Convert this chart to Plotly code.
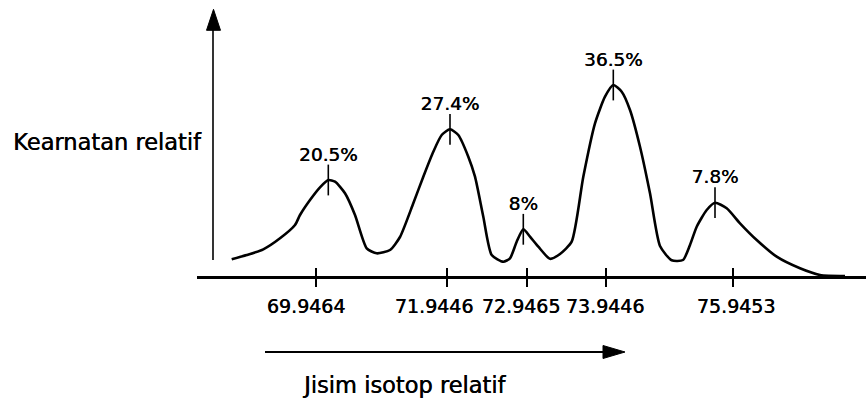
import plotly.graph_objects as go

# ---------------- data ----------------
# horizontal position along the mass axis (schematic units) and height above the baseline
curve_x = [231.7, 246.7, 263.3, 280, 295, 300, 310, 320, 328.3, 335, 345, 355, 366.7, 376.7,
           390, 400, 413.3, 423.3, 433.3, 441.7, 450, 458.3, 468.3, 475, 483.3, 491.7, 503.3,
           510, 516.7, 523.3, 530, 538.3, 550, 560, 571.7, 583.3, 595, 605, 613.3, 621.7, 630,
           640, 650, 660, 671.7, 683, 690, 696.7, 706.7, 715, 726.7, 740, 756.7, 776.7, 800,
           820, 845]
curve_y = [16.7, 21, 26.7, 37.7, 51, 61, 76, 88.7, 96, 94.3, 82.7, 61, 27.7, 22.7,
           26, 39, 72.7, 99.3, 124.3, 141, 146.7, 141, 119.3, 99.3, 59.3, 21, 14.3,
           17.7, 34.3, 46.7, 39.3, 29.3, 17.2, 22, 34.3, 99.3, 152.7, 179.3, 191, 184.3, 166,
           129.3, 82.7, 30, 15.7, 16, 31, 49.3, 66, 73.3, 67.7, 52.7, 36, 19.3, 7.7,
           1, 0]

peak_x = [328.3, 450, 523.3, 613.3, 715]
peak_y = [96, 146.7, 46.7, 191, 73.3]
abundance_labels = ["20.5%", "27.4%", "8%", "36.5%", "7.8%"]

mass_labels = ["69.9464", "71.9446", "72.9465", "73.9446", "75.9453"]
tick_x = [316, 447, 527, 606, 733]
label_x = [306, 434, 521, 605, 736]

y_title = "Kearnatan relatif"
x_title = "Jisim isotop relatif"

# ---------------- layout helpers ----------------
W, H = 866, 400
L, B = 197, 124
X0, X1 = 197, 866
Y_TOP = 276
FONT = "DejaVu Sans"
THICK = "0.45px 0 0 #000"   # slight emboldening, like the scanned print


def px(xp):
    return (xp - L) / (W - L)


def py(yp):
    return (Y_TOP - yp) / Y_TOP


fig = go.Figure()

fig.add_trace(go.Scatter(
    x=curve_x, y=curve_y, mode="lines",
    line=dict(color="black", width=2.6, shape="spline", smoothing=0.6),
    hoverinfo="skip", showlegend=False,
))

# peak marks (short vertical strokes) with abundance labels, on overlay axis x2
fig.add_trace(go.Scatter(
    x=peak_x, y=peak_y, mode="markers+text", xaxis="x2",
    marker=dict(symbol="line-ns", size=22, line=dict(width=1.6, color="black")),
    text=abundance_labels, textposition="top center",
    textfont=dict(family=FONT, size=18.5, color="black", shadow=THICK),
    hoverinfo="skip", showlegend=False,
))

# invisible helper trace so the inside-tick overlay axis x3 is drawn
fig.add_trace(go.Scatter(
    x=peak_x, y=peak_y, mode="markers", xaxis="x3",
    marker=dict(size=1, opacity=0), hoverinfo="skip", showlegend=False,
))

fig.update_layout(
    width=W, height=H,
    margin=dict(l=L, r=0, t=0, b=B, pad=0),
    paper_bgcolor="white", plot_bgcolor="white",
    showlegend=False,
    xaxis=dict(
        range=[X0, X1], showline=True, linecolor="black", linewidth=2.6,
        showgrid=False, zeroline=False,
        tickmode="array", tickvals=label_x, ticktext=mass_labels, ticks="",
        tickfont=dict(family=FONT, size=19, color="black", shadow=THICK),
        ticklabelstandoff=11,
    ),
    xaxis2=dict(
        range=[X0, X1], overlaying="x", anchor="y", side="bottom",
        showline=False, showgrid=False, zeroline=False,
        tickmode="array", tickvals=tick_x, ticks="outside", ticklen=10,
        tickwidth=1.6, tickcolor="black", showticklabels=False,
    ),
    xaxis3=dict(
        range=[X0, X1], overlaying="x", anchor="y", side="bottom",
        showline=False, showgrid=False, zeroline=False,
        tickmode="array", tickvals=tick_x, ticks="inside", ticklen=8,
        tickwidth=1.6, tickcolor="black", showticklabels=False,
    ),
    yaxis=dict(range=[0, Y_TOP], visible=False, fixedrange=True),
)

# vertical (abundance) arrow
fig.add_shape(type="line", xref="x", yref="y", x0=213, x1=213, y0=16, y1=250,
              line=dict(color="black", width=1.6))
fig.add_shape(type="path", xref="x", yref="y", xsizemode="pixel", ysizemode="pixel",
              xanchor=213.5, yanchor=266.7, path="M0,0 L-7,-21 L7,-21 Z",
              fillcolor="black", line=dict(color="black", width=1))

# horizontal (mass) arrow below the axis
fig.add_shape(type="line", xref="paper", yref="paper", x0=px(265), x1=px(606),
              y0=py(352), y1=py(352), line=dict(color="black", width=2.2))
fig.add_shape(type="path", xref="paper", yref="paper", xsizemode="pixel", ysizemode="pixel",
              xanchor=px(625), yanchor=py(352), path="M0,0 L-22,6.5 L-22,-6.5 Z",
              fillcolor="black", line=dict(color="black", width=1))

fig.add_annotation(text=y_title, xref="paper", yref="paper", x=px(204), y=py(142),
                   xanchor="right", yanchor="middle", showarrow=False,
                   font=dict(family=FONT, size=22.5, color="black", shadow=THICK))
fig.add_annotation(text=x_title, xref="paper", yref="paper", x=px(404), y=py(385),
                   xanchor="center", yanchor="middle", showarrow=False,
                   font=dict(family=FONT, size=22.5, color="black", shadow=THICK))

# remove the browser's default page margin so the figure sits at the window origin
fig.write_html("out.html", config={"displayModeBar": False},
               post_script="document.body.style.margin='0';")
